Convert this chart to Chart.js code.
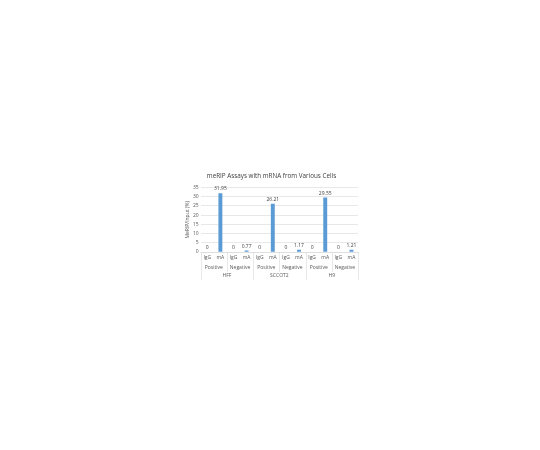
<!DOCTYPE html>
<html>
<head>
<meta charset="utf-8">
<style>
  html, body { margin: 0; padding: 0; background: #fff; }
  #wrap { width: 540px; height: 450px; }
</style>
<script src="https://cdn.jsdelivr.net/npm/chart.js@4/dist/chart.umd.min.js"></script>
</head>
<body>
<div id="wrap"><canvas id="chart" width="540" height="450"></canvas></div>
<script>
const antibodies = ["IgG", "mA", "IgG", "mA", "IgG", "mA", "IgG", "mA", "IgG", "mA", "IgG", "mA"];
const controls = ["Positive", "Negative", "Positive", "Negative", "Positive", "Negative"];
const cells = ["HFF", "SCCOT2", "H9"];
const values = [0, 31.95, 0, 0.77, 0, 26.21, 0, 1.17, 0, 29.55, 0, 1.21];
const yTicks = [0, 5, 10, 15, 20, 25, 30, 35];

const FONT = "'Open Sans', 'Noto Sans', sans-serif";
const GRID = "#d9d9d9";
const TEXT = "#595959";

// value labels above bars
const valueLabels = {
    id: "valueLabels",
    afterDatasetsDraw(chart) {
        const ctx = chart.ctx;
        const meta = chart.getDatasetMeta(0);
        ctx.save();
        ctx.font = "5px " + FONT;
        ctx.fillStyle = "#404040";
        ctx.textAlign = "center";
        ctx.textBaseline = "bottom";
        meta.data.forEach((bar, i) => {
            ctx.fillText(String(values[i]), bar.x, bar.y - 2);
        });
        ctx.restore();
    }
};

// separators for the grouped category labels
const groupLines = {
    id: "groupLines",
    afterDraw(chart) {
        const ctx = chart.ctx;
        const x = chart.scales.x;
        const x2 = chart.scales.x2;
        const x3 = chart.scales.x3;
        const half = (x.getPixelForValue(1) - x.getPixelForValue(0)) / 2;
        const top = chart.chartArea.bottom;
        ctx.save();
        ctx.strokeStyle = GRID;
        ctx.lineWidth = 0.6;
        for (let b = 0; b <= antibodies.length; b += 2) {
            const px = Math.round(x.getPixelForValue(b) - half) + 0.5;
            const end = (b % 4 === 0) ? x3.bottom : x2.bottom;
            ctx.beginPath();
            ctx.moveTo(px, top);
            ctx.lineTo(px, end);
            ctx.stroke();
        }
        ctx.restore();
    }
};

const tickFont = { family: FONT, size: 5 };
const bottomAxis = (labels, pad) => ({
    type: "category",
    position: "bottom",
    labels: labels,
    ticks: { color: TEXT, font: tickFont, padding: pad, maxRotation: 0, autoSkip: false },
    grid: { display: false, drawTicks: false, tickLength: 0 },
    border: { display: false }
});

new Chart(document.getElementById("chart"), {
    type: "bar",
    data: {
        labels: antibodies,
        datasets: [{
            data: values,
            backgroundColor: "#5b9bd5",
            categoryPercentage: 1,
            barPercentage: 0.3
        }]
    },
    plugins: [valueLabels, groupLines],
    options: {
        responsive: false,
        animation: false,
        devicePixelRatio: 1,
        layout: { padding: { left: 185, right: 182, top: 172, bottom: 170 } },
        plugins: {
            legend: { display: false },
            tooltip: { enabled: false },
            title: {
                display: true,
                text: "meRIP Assays with mRNA from Various Cells",
                color: "#404040",
                font: { family: FONT, size: 6.3, weight: "normal" },
                padding: { top: 0, bottom: 8 }
            }
        },
        scales: {
            y: {
                min: 0,
                max: 35,
                afterBuildTicks(axis) { axis.ticks = yTicks.map(v => ({ value: v })); },
                ticks: { color: TEXT, font: tickFont, padding: 2, autoSkip: false },
                grid: { color: GRID, lineWidth: 0.6, drawTicks: false },
                border: { display: false },
                title: {
                    display: true,
                    text: "MeRIP/Input (%)",
                    color: TEXT,
                    font: tickFont,
                    padding: 0
                }
            },
            x: {
                position: "bottom",
                ticks: { color: TEXT, font: tickFont, padding: 3, maxRotation: 0, autoSkip: false },
                grid: { display: false, drawTicks: false, tickLength: 0 },
                border: { color: GRID, width: 0.6 }
            },
            x2: bottomAxis(controls, 1),
            x3: bottomAxis(cells, 1)
        }
    }
});
</script>
</body>
</html>
